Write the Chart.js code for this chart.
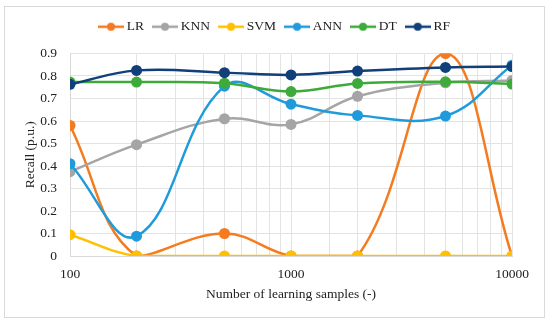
<!DOCTYPE html>
<html>
<head>
<meta charset="utf-8">
<script src="https://cdn.jsdelivr.net/npm/chart.js@4/dist/chart.umd.min.js"></script>
<style>
  html, body { margin: 0; padding: 0; background: #fff; }
  #wrap { position: relative; width: 550px; height: 327px; }
  #frame { position: absolute; left: 4px; top: 6px; width: 539px; height: 310px; border: 1.5px solid #d9d9d9; }
  #chart { position: absolute; left: 0; top: 0; }
</style>
</head>
<body>
<div id="wrap">
  <div id="frame"></div>
  <canvas id="chart" width="550" height="327"></canvas>
</div>
<script>
const samples = [100, 200, 500, 1000, 2000, 5000, 10000];
const xLabels = [100, 1000, 10000];
const seriesNames = ['LR', 'KNN', 'SVM', 'ANN', 'DT', 'RF'];
const lr  = [0.58, 0, 0.1, 0, 0, 0.9, 0];
const knn = [0.375, 0.495, 0.61, 0.585, 0.71, 0.77, 0.78];
const svm = [0.095, 0, 0, 0, 0, 0, 0];
const ann = [0.41, 0.088, 0.755, 0.675, 0.625, 0.622, 0.848];
const dt  = [0.773, 0.773, 0.768, 0.731, 0.767, 0.774, 0.764];
const rf  = [0.763, 0.825, 0.815, 0.805, 0.822, 0.838, 0.842];
const colors = ['#f47b20', '#a5a5a5', '#ffc000', '#1f9bdb', '#3daa3a', '#103f7a'];

const FONT = 'Liberation Serif';
const values = [lr, knn, svm, ann, dt, rf];

// small line-with-dot marker for the legend
function legendMarker(color) {
  const c = document.createElement('canvas');
  c.width = 26; c.height = 12;
  const g = c.getContext('2d');
  g.strokeStyle = color;
  g.lineWidth = 2.5;
  g.beginPath(); g.moveTo(0, 6); g.lineTo(26, 6); g.stroke();
  g.fillStyle = color;
  g.beginPath(); g.arc(13, 6, 4, 0, Math.PI * 2); g.fill();
  return c;
}

const datasets = seriesNames.map((name, i) => ({
  label: name,
  data: samples.map((x, j) => ({ x: x, y: values[i][j] })),
  borderColor: colors[i],
  backgroundColor: colors[i],
  pointBackgroundColor: colors[i],
  pointBorderColor: colors[i],
  borderWidth: 2.5,
  pointRadius: 5.5,
  pointBorderWidth: 0,
  tension: 0.4,
  fill: false,
  order: seriesNames.length - i
}));

// extra room under the legend, and nudge it right to sit over the page centre
const legendTweak = {
  id: 'legendTweak',
  beforeInit(chart) {
    const fit = chart.legend.fit;
    chart.legend.fit = function () {
      fit.bind(chart.legend)();
      this.height += 10;
    };
  },
  afterLayout(chart) {
    chart.legend.left += 13;
    chart.legend.right += 13;
  }
};

new Chart(document.getElementById('chart'), {
  type: 'line',
  data: { datasets },
  plugins: [legendTweak],
  options: {
    responsive: false,
    animation: false,
    layout: { padding: { left: 14, right: 38, top: 8, bottom: 20 } },
    plugins: {
      tooltip: { enabled: false },
      legend: {
        position: 'top',
        labels: {
          usePointStyle: true,
          pointStyleWidth: 18,
          padding: 12,
          color: '#222',
          font: { family: FONT, size: 13.5 },
          generateLabels(chart) {
            return chart.data.datasets.map((ds, i) => ({
              text: ds.label,
              fillStyle: ds.borderColor,
              strokeStyle: ds.borderColor,
              pointStyle: legendMarker(ds.borderColor),
              hidden: !chart.isDatasetVisible(i),
              datasetIndex: i,
              fontColor: '#222'
            }));
          }
        }
      }
    },
    scales: {
      x: {
        type: 'logarithmic',
        min: 100,
        max: 10000,
        grid: { color: '#e3e3e3', drawTicks: false },
        border: { color: '#d9d9d9' },
        ticks: {
          autoSkip: false,
          maxRotation: 0,
          padding: 10,
          color: '#222',
          font: { family: FONT, size: 13.5 },
          callback: v => xLabels.includes(v) ? String(v) : ''
        },
        title: {
          display: true,
          text: 'Number of learning samples (-)',
          color: '#222',
          font: { family: FONT, size: 13.5 },
          padding: 4
        },
        afterFit: s => { s.height = 51; }
      },
      y: {
        min: 0,
        max: 0.9,
        grid: { color: '#e3e3e3', drawTicks: false },
        border: { color: '#d9d9d9' },
        ticks: {
          stepSize: 0.1,
          padding: 13,
          color: '#222',
          font: { family: FONT, size: 13.5 },
          callback: v => String(+v.toFixed(1))
        },
        title: {
          display: true,
          text: 'Recall (p.u.)',
          color: '#222',
          font: { family: FONT, size: 13.5 },
          padding: 8
        },
        afterFit: s => { s.width = 56; }
      }
    }
  }
});
</script>
</body>
</html>
